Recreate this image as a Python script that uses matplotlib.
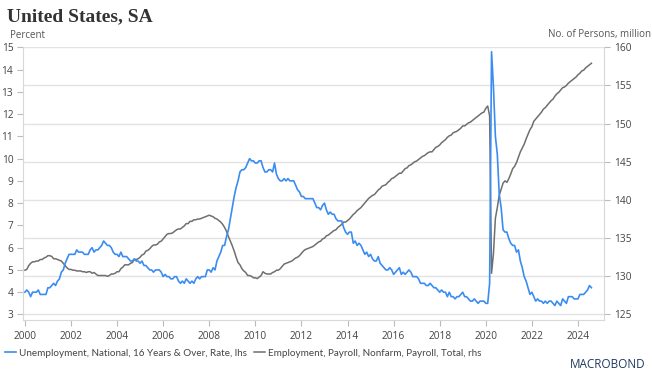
import numpy as np
import matplotlib
matplotlib.use('Agg')
import matplotlib.pyplot as plt

# Monthly data, Jan 2000 - Aug 2024

# Unemployment rate, %, lhs
unemp = [
    4.0,4.1,4.0,3.8,4.0,4.0,4.0,4.1,3.9,3.9,3.9,3.9,   # 2000
    4.2,4.2,4.3,4.4,4.3,4.5,4.6,4.9,5.0,5.3,5.5,5.7,   # 2001
    5.7,5.7,5.7,5.9,5.8,5.8,5.8,5.7,5.7,5.7,5.9,6.0,   # 2002
    5.8,5.9,5.9,6.0,6.1,6.3,6.2,6.1,6.1,6.0,5.8,5.7,   # 2003
    5.7,5.6,5.8,5.6,5.6,5.6,5.5,5.4,5.4,5.5,5.4,5.4,   # 2004
    5.3,5.4,5.2,5.2,5.1,5.0,5.0,4.9,5.0,5.0,5.0,4.9,   # 2005
    4.7,4.8,4.7,4.7,4.6,4.6,4.7,4.7,4.5,4.4,4.5,4.4,   # 2006
    4.6,4.5,4.4,4.5,4.4,4.6,4.7,4.6,4.7,4.7,4.7,5.0,   # 2007
    5.0,4.9,5.1,5.0,5.4,5.6,5.8,6.1,6.1,6.5,6.8,7.3,   # 2008
    7.8,8.3,8.7,9.0,9.4,9.5,9.5,9.6,9.8,10.0,9.9,9.9,  # 2009
    9.8,9.8,9.9,9.9,9.6,9.4,9.4,9.5,9.5,9.4,9.8,9.3,   # 2010
    9.1,9.0,9.0,9.1,9.0,9.1,9.0,9.0,9.0,8.8,8.6,8.5,   # 2011
    8.3,8.3,8.2,8.2,8.2,8.2,8.2,8.0,7.8,7.8,7.7,7.9,   # 2012
    8.0,7.7,7.5,7.6,7.5,7.5,7.3,7.2,7.2,7.2,6.9,6.7,   # 2013
    6.6,6.7,6.7,6.2,6.3,6.1,6.2,6.1,5.9,5.7,5.8,5.6,   # 2014
    5.7,5.5,5.4,5.4,5.6,5.3,5.2,5.1,5.0,5.0,5.1,5.0,   # 2015
    4.8,4.9,5.0,5.1,4.8,4.9,4.8,4.9,5.0,4.9,4.7,4.7,   # 2016
    4.7,4.6,4.4,4.4,4.4,4.3,4.3,4.4,4.3,4.2,4.2,4.1,   # 2017
    4.0,4.1,4.0,4.0,3.8,4.0,3.8,3.8,3.7,3.8,3.8,3.9,   # 2018
    4.0,3.8,3.8,3.7,3.6,3.6,3.7,3.6,3.5,3.6,3.6,3.6,   # 2019
    3.5,3.5,4.4,14.8,13.2,11.0,10.2,8.4,7.8,6.8,6.7,6.7,  # 2020
    6.4,6.2,6.1,6.1,5.8,5.9,5.4,5.1,4.7,4.5,4.2,3.9,   # 2021
    4.0,3.8,3.6,3.7,3.6,3.6,3.5,3.6,3.5,3.6,3.6,3.5,   # 2022
    3.4,3.6,3.5,3.4,3.7,3.6,3.5,3.8,3.8,3.8,3.7,3.7,   # 2023
    3.7,3.9,3.9,3.9,4.0,4.1,4.3,4.2,                   # 2024
]

# Nonfarm payrolls, million persons, rhs
payrolls = [
    130.8,130.9,131.4,131.7,131.9,131.9,132.0,132.0,132.2,132.2,132.4,132.5,  # 2000
    132.7,132.7,132.6,132.3,132.3,132.2,132.1,132.0,131.7,131.4,131.1,130.9,  # 2001
    130.9,130.8,130.8,130.7,130.7,130.7,130.6,130.6,130.5,130.6,130.6,130.4,  # 2002
    130.5,130.3,130.1,130.1,130.1,130.1,130.1,130.0,130.1,130.3,130.3,130.4,  # 2003
    130.6,130.6,131.0,131.2,131.5,131.5,131.5,131.7,131.8,132.2,132.2,132.3,  # 2004
    132.5,132.8,132.9,133.3,133.4,133.6,133.9,134.1,134.1,134.2,134.5,134.6,  # 2005
    134.9,135.2,135.5,135.6,135.6,135.7,135.9,136.1,136.2,136.2,136.4,136.6,  # 2006
    136.9,136.9,137.2,137.2,137.4,137.4,137.5,137.5,137.6,137.7,137.8,137.9,  # 2007
    138.0,137.9,137.8,137.6,137.5,137.3,137.1,136.8,136.4,135.9,135.2,134.6,  # 2008
    134.0,133.3,132.5,131.8,131.5,131.0,130.7,130.5,130.1,130.1,130.0,129.8,  # 2009
    129.8,129.7,129.9,130.1,130.6,130.4,130.3,130.3,130.3,130.5,130.6,130.8,  # 2010
    130.8,131.0,131.3,131.6,131.7,131.8,131.9,132.0,132.2,132.4,132.5,132.7,  # 2011
    133.0,133.3,133.5,133.6,133.7,133.8,133.9,134.1,134.3,134.5,134.6,134.9,  # 2012
    135.0,135.3,135.4,135.6,135.8,136.0,136.1,136.4,136.6,136.8,137.1,137.1,  # 2013
    137.3,137.5,137.8,138.1,138.3,138.6,138.8,139.0,139.3,139.6,139.9,140.2,  # 2014
    140.4,140.6,140.7,141.0,141.3,141.5,141.8,141.9,142.0,142.3,142.5,142.8,  # 2015
    142.9,143.1,143.3,143.5,143.5,143.8,144.1,144.2,144.5,144.6,144.8,145.0,  # 2016
    145.1,145.3,145.5,145.7,145.8,146.0,146.2,146.3,146.3,146.6,146.9,147.0,  # 2017
    147.2,147.5,147.7,147.9,148.2,148.4,148.5,148.8,148.9,149.0,149.2,149.4,  # 2018
    149.7,149.7,149.9,150.1,150.2,150.4,150.6,150.8,151.0,151.2,151.4,151.5,  # 2019
    152.0,152.3,151.0,130.4,133.0,137.6,139.0,140.6,141.4,142.2,142.5,142.3,  # 2020
    142.8,143.4,144.1,144.4,144.9,145.6,146.3,146.8,147.3,148.0,148.6,149.2,  # 2021
    149.6,150.3,150.6,150.9,151.2,151.5,151.9,152.1,152.4,152.7,153.0,153.2,  # 2022
    153.6,153.9,154.1,154.4,154.7,154.8,155.0,155.3,155.5,155.7,155.9,156.1,  # 2023
    156.4,156.6,156.9,157.0,157.3,157.5,157.7,157.9,                          # 2024
]

years = 2000 + np.arange(len(unemp)) / 12.0
xticks = list(range(2000, 2025, 2))
left_ticks = list(range(3, 16))
right_ticks = list(range(125, 161, 5))

BLUE = '#3a8cf2'
GRAY = '#6f6f6f'
TXT = '#444444'
GRID = '#e3e3e3'

plt.rcParams['font.family'] = ['Open Sans', 'DejaVu Sans']

fig = plt.figure(figsize=(6.52, 3.81), dpi=100)
ax2 = fig.add_axes([0.0353, 0.160, 0.8911, 0.716])
ax1 = ax2.twinx()
# left-axis series on top, gridlines stay underneath
ax1.set_zorder(ax2.get_zorder() + 1)
ax1.patch.set_visible(False)

ax2.yaxis.tick_right()
ax1.yaxis.tick_left()

ax2.plot(years, payrolls, color=GRAY, lw=1.1, label='Employment, Payroll, Nonfarm, Payroll, Total, rhs')
ax1.plot(years, unemp, color=BLUE, lw=1.2, label='Unemployment, National, 16 Years & Over, Rate, lhs')

lo_left = 2.75
ax1.set_ylim(lo_left, 15)
ax2.set_ylim(125 - (3 - lo_left) * 35 / 12, 160)
ax1.set_xlim(1999.92, 2025.13)
ax2.set_xlim(1999.92, 2025.13)

ax1.set_yticks(left_ticks)
ax2.set_yticks(right_ticks)
ax2.set_xticks(xticks)
ax1.set_xticks(xticks)
ax2.grid(axis='y', color=GRID, lw=1.0)
ax2.set_axisbelow(True)

for ax in (ax1, ax2):
    for s in ax.spines.values():
        s.set_visible(False)
    ax.tick_params(colors='#bbbbbb', labelcolor=TXT, labelsize=7.3, length=4, width=0.8)
ax1.spines['left'].set_visible(True)
ax1.spines['left'].set_color('#d8d8d8')
ax2.spines['right'].set_visible(True)
ax2.spines['right'].set_color('#d8d8d8')
ax2.spines['bottom'].set_visible(True)
ax2.spines['bottom'].set_color('#d8d8d8')
ax1.tick_params(axis='x', bottom=False, labelbottom=False)
ax2.tick_params(axis='y', left=False, labelleft=False, right=True, labelright=True, pad=3)
ax1.tick_params(axis='y', right=False, labelright=False, pad=3)
ax2.tick_params(axis='x', pad=4)

fig.text(0.011, 1 - 21.5 / 381, 'United States, SA', family='Liberation Serif', weight='bold',
         fontsize=14, color='#333333', va='baseline', ha='left')
fig.text(0.015, 1 - 37.5 / 381, 'Percent', fontsize=7, color='#555555', va='baseline', ha='left')
fig.text(0.998, 1 - 37.5 / 381, 'No. of Persons, million', fontsize=7, color='#555555',
         va='baseline', ha='right')

h1, l1 = ax1.get_legend_handles_labels()
h2, l2 = ax2.get_legend_handles_labels()
fig.legend(h1 + h2, l1 + l2, loc='center left', bbox_to_anchor=(0.008, 0.073), ncol=2,
           frameon=False, prop={'family': 'Lato', 'size': 7.1}, handlelength=1.1,
           handletextpad=0.3, columnspacing=0.7, labelcolor=TXT, borderaxespad=0,
           borderpad=0)

fig.text(0.99, 0.025, 'MACROBOND', fontsize=8.5, color='#1f3a60', ha='right', va='bottom')

fig.savefig('out.png', dpi=100)
